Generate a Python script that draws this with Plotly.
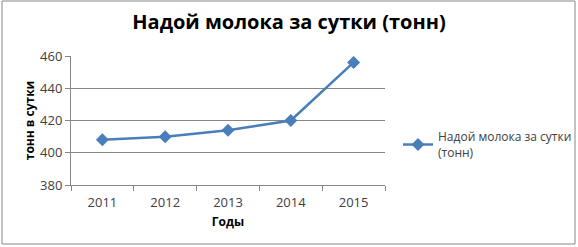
import plotly.graph_objects as go

years = ["2011", "2012", "2013", "2014", "2015"]
values = [408, 410, 414, 420, 456]
series_name = "Надой молока за сутки<br>(тонн)"
title_text = "Надой молока за сутки (тонн)"

W, H = 578, 247
L, R, T, B = 71, 193, 56, 62
pw = W - L - R
ph = H - T - B

def px(x):
    return (x - L) / pw

def py(y):
    return (H - B - y) / ph

font_family = "Open Sans, Liberation Sans, Arial, sans-serif"

fig = go.Figure()
fig.add_trace(go.Scatter(
    x=years, y=values, mode="lines+markers", name=series_name,
    line=dict(color="#4A7EBB", width=2.5),
    marker=dict(symbol="diamond", size=10, color="#4A7EBB"),
))

fig.update_layout(
    width=W, height=H,
    margin=dict(l=L, r=R, t=T, b=B, autoexpand=False),
    paper_bgcolor="white", plot_bgcolor="white",
    font=dict(family=font_family, color="#404040"),
    title=dict(text="<b>" + title_text + "</b>", x=0.5, xanchor="center",
               y=1 - 22 / H, yanchor="middle", xref="container", yref="container",
               font=dict(size=20, color="black", family=font_family)),
    showlegend=True,
    legend=dict(x=398 / W, xanchor="left", y=1 - 145 / H, yanchor="middle",
                xref="container", yref="container",
                font=dict(size=12, color="#404040"), bgcolor="rgba(0,0,0,0)",
                itemwidth=30, tracegroupgap=0),
    xaxis=dict(
        type="category", tickson="boundaries", ticks="outside", ticklen=5,
        tickcolor="#868686", showline=True, linecolor="#868686", linewidth=1,
        showgrid=False, tickfont=dict(size=13, color="#404040"),
        ticklabelstandoff=5,
        title=dict(text="<b>Годы</b>", font=dict(size=12, color="black"), standoff=8),
        range=[-0.5, 4.5],
    ),
    yaxis=dict(
        range=[380, 460], dtick=20, ticks="outside", ticklen=5,
        tickcolor="#868686", showline=True, linecolor="#868686", linewidth=1,
        showgrid=True, gridcolor="#868686", gridwidth=1,
        tickfont=dict(size=13, color="#404040"),
        title=dict(text="<b>тонн в сутки</b>", font=dict(size=12, color="black"), standoff=2),
        zeroline=False,
    ),
)

fig.add_shape(type="rect", xref="paper", yref="paper",
              x0=px(2), x1=px(575), y0=py(244), y1=py(1),
              line=dict(color="#868686", width=1), fillcolor="rgba(0,0,0,0)", layer="below")

fig.write_html("out.html")
